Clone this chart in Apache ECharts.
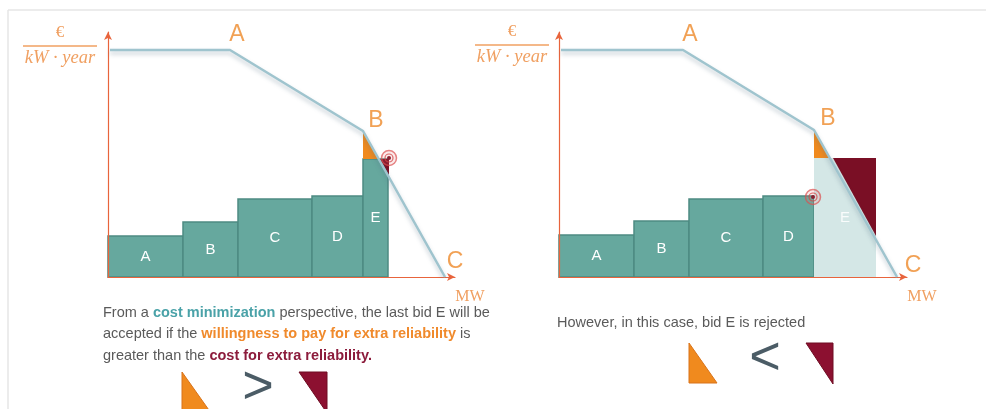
<!DOCTYPE html>
<html>
<head>
<meta charset="utf-8">
<script src="https://cdn.jsdelivr.net/npm/echarts@6/dist/echarts.min.js"></script>
<style>
  html, body { margin: 0; padding: 0; background: #fff; }
  #chart { width: 986px; height: 409px; }
</style>
</head>
<body>
<div id="chart"></div>
<script>
// bids: [from MW, to MW, price, name]
const leftBids = [[0, 75, 41, 'A'], [75, 130, 55, 'B'], [130, 204, 78, 'C'], [204, 255, 81, 'D'], [255, 280, 118, 'E']]
const rightBids = [[0, 75, 42, 'A'], [75, 130, 56, 'B'], [130, 204, 78, 'C'], [204, 255, 81, 'D']]
const rightRejected = [[255, 317, 119, 'E']]

// demand (willingness to pay) curve
const leftDemand = [[2, 227], [122, 227], [255, 146], [337, 0]]
const rightDemand = [[2, 227], [124, 227], [255, 147], [338, 0]]
const demandNames = ['', 'A', 'B', 'C']

// extra reliability triangles
const leftWilling = [[255, 146], [255, 118], [271, 118]]
const leftCost = [[272, 118], [281, 118], [281, 102]]
const rightWilling = [[255, 147], [255, 119], [271, 119]]
const rightCost = [[274, 119], [317, 119], [317, 41]]

// crosshair markers
const leftTarget = [[281, 119]]
const rightTarget = [[254, 80]]

const orange = '#ee8a2a'
const axisColor = '#e8643c'
const teal = '#66a89e'
const tealDark = '#4e8b82'
const curveColor = '#9fc4ce'
const wine = '#7a0f25'
const sans = 'Liberation Sans, Arial'

const chart = echarts.init(document.getElementById('chart'), null, { renderer: 'canvas' })

function axes(idx, width) {
  const common = {
    gridIndex: idx,
    type: 'value',
    min: 0,
    z: 3,
    axisLine: { show: true, symbol: ['none', 'arrow'], symbolSize: [6, 8], lineStyle: { color: axisColor, width: 1.2 } },
    axisTick: { show: false },
    axisLabel: { show: false },
    splitLine: { show: false }
  }
  return {
    x: Object.assign({}, common, { max: width }),
    y: Object.assign({}, common, { max: 245 })
  }
}

function bidSeries(idx, bids, fill, stroke, textColor) {
  return {
    type: 'custom',
    xAxisIndex: idx,
    yAxisIndex: idx,
    z: 2,
    data: bids.map(b => [b[0], b[1], b[2]]),
    renderItem: (params, api) => {
      const p0 = api.coord([api.value(0), api.value(2)])
      const p1 = api.coord([api.value(1), 0])
      return {
        type: 'rect',
        shape: { x: p0[0], y: p0[1], width: p1[0] - p0[0], height: p1[1] - p0[1] },
        style: { fill, stroke, lineWidth: stroke === 'none' ? 0 : 1.5 },
        textContent: {
          style: { text: bids[params.dataIndex][3], fill: textColor, fontSize: 15, fontFamily: sans }
        },
        textConfig: { position: 'inside' }
      }
    }
  }
}

function triangleSeries(idx, pts, fill) {
  return {
    type: 'custom',
    xAxisIndex: idx,
    yAxisIndex: idx,
    z: 3,
    data: pts,
    renderItem: (params, api) => {
      if (params.dataIndex > 0) return null
      return {
        type: 'polygon',
        shape: { points: pts.map(p => api.coord(p)) },
        style: { fill }
      }
    }
  }
}

function demandSeries(idx, pts) {
  return {
    type: 'line',
    xAxisIndex: idx,
    yAxisIndex: idx,
    z: 5,
    data: pts,
    showSymbol: false,
    silent: true,
    lineStyle: { color: curveColor, width: 2.5, shadowColor: 'rgba(80,110,130,0.35)', shadowBlur: 4, shadowOffsetY: 3 }
  }
}

function demandLabelSeries(idx, pts, offsets) {
  return {
    type: 'scatter',
    xAxisIndex: idx,
    yAxisIndex: idx,
    z: 7,
    symbolSize: 0,
    silent: true,
    data: pts.map((p, i) => ({
      value: p,
      label: {
        show: demandNames[i] !== '',
        formatter: demandNames[i],
        position: 'inside',
        offset: offsets[i],
        color: orange,
        fontSize: 23,
        fontFamily: sans
      }
    }))
  }
}

function targetSeries(idx, pts) {
  return {
    type: 'custom',
    xAxisIndex: idx,
    yAxisIndex: idx,
    z: 6,
    data: pts,
    renderItem: (params, api) => {
      const c = api.coord([api.value(0), api.value(1)])
      return {
        type: 'group',
        children: [
          { type: 'circle', shape: { cx: c[0], cy: c[1], r: 7.5 }, style: { fill: 'rgba(230,120,120,0.15)', stroke: 'rgba(220,80,80,0.7)', lineWidth: 1.5 } },
          { type: 'circle', shape: { cx: c[0], cy: c[1], r: 4 }, style: { fill: 'none', stroke: 'rgba(210,70,70,0.8)', lineWidth: 1.2 } },
          { type: 'circle', shape: { cx: c[0], cy: c[1], r: 2 }, style: { fill: '#8a2030' } }
        ]
      }
    }
  }
}

const la = axes(0, 347)
const ra = axes(1, 348)

const textBase = { fill: '#5a5a5a', fontSize: 14.5, fontFamily: sans }
const richStyles = {
  t: { fill: '#4aa2a8', fontWeight: 'bold', fontSize: 14.5, fontFamily: sans },
  o: { fill: '#f08a2c', fontWeight: 'bold', fontSize: 14.5, fontFamily: sans },
  r: { fill: '#8c1c3c', fontWeight: 'bold', fontSize: 14.5, fontFamily: sans }
}

function unitLabel(cx, top) {
  return [
    { type: 'text', style: { x: cx, y: top, text: '€', fill: '#f0a062', fontSize: 17, fontFamily: 'Liberation Serif', align: 'center', verticalAlign: 'middle' } },
    { type: 'line', shape: { x1: cx - 37, y1: top + 13, x2: cx + 37, y2: top + 13 }, style: { stroke: '#f0a062', lineWidth: 1.5 } },
    { type: 'text', style: { x: cx, y: top + 25, text: 'kW · year', fill: '#f0a062', fontSize: 18.5, fontStyle: 'italic', fontFamily: 'Liberation Serif', align: 'center', verticalAlign: 'middle' } }
  ]
}

function mwLabel(x) {
  return { type: 'text', style: { x, y: 297, text: 'MW', fill: '#f0a062', fontSize: 16, fontFamily: 'Liberation Serif', align: 'center', verticalAlign: 'middle' } }
}

chart.setOption({
  animation: false,
  grid: [
    { left: 108, top: 32, width: 347, height: 245 },
    { left: 559, top: 32, width: 348, height: 245 }
  ],
  xAxis: [la.x, ra.x],
  yAxis: [la.y, ra.y],
  series: [
    bidSeries(0, leftBids, teal, tealDark, '#ffffff'),
    triangleSeries(0, leftWilling, '#f08a1e'),
    triangleSeries(0, leftCost, wine),
    demandSeries(0, leftDemand),
    targetSeries(0, leftTarget),
    demandLabelSeries(0, leftDemand, [[0, 0], [7, -15], [13, -10], [10, -15]]),

    bidSeries(1, rightBids, teal, tealDark, '#ffffff'),
    bidSeries(1, rightRejected, '#d4e7e6', 'none', 'rgba(255,255,255,0.85)'),
    triangleSeries(1, rightWilling, '#f08a1e'),
    triangleSeries(1, rightCost, wine),
    demandSeries(1, rightDemand),
    targetSeries(1, rightTarget),
    demandLabelSeries(1, rightDemand, [[0, 0], [7, -15], [14, -11], [16, -11]])
  ],
  graphic: [
    { type: 'line', shape: { x1: 8, y1: 10, x2: 986, y2: 10 }, style: { stroke: '#e6e6e6', lineWidth: 1.5 } },
    { type: 'line', shape: { x1: 8, y1: 10, x2: 8, y2: 409 }, style: { stroke: '#e6e6e6', lineWidth: 1.5 } },
    ...unitLabel(60, 33),
    ...unitLabel(512, 32),
    mwLabel(470),
    mwLabel(922),
    {
      type: 'text',
      style: Object.assign({}, textBase, {
        x: 103, y: 302, lineHeight: 21.5,
        text: 'From a {t|cost minimization} perspective, the last bid E will be\naccepted if the {o|willingness to pay for extra reliability} is\ngreater than the {r|cost for extra reliability.}',
        rich: richStyles
      })
    },
    { type: 'text', style: Object.assign({}, textBase, { x: 557, y: 323, verticalAlign: 'middle', text: 'However, in this case, bid E is rejected' }) },
    // comparison glyphs
    { type: 'polygon', shape: { points: [[182, 372], [182, 413], [211, 413]] }, style: { fill: '#f08a1e', stroke: '#d8731a', lineWidth: 1 } },
    { type: 'text', style: { x: 258, y: 388, text: '>', fill: '#4b5c66', fontSize: 54, fontFamily: sans, align: 'center', verticalAlign: 'middle' } },
    { type: 'polygon', shape: { points: [[299, 372], [327, 372], [327, 413]] }, style: { fill: '#8c1030', stroke: '#6e0c22', lineWidth: 1 } },
    { type: 'polygon', shape: { points: [[689, 343], [689, 383], [717, 383]] }, style: { fill: '#f08a1e', stroke: '#d8731a', lineWidth: 1 } },
    { type: 'text', style: { x: 765, y: 359, text: '<', fill: '#4b5c66', fontSize: 54, fontFamily: sans, align: 'center', verticalAlign: 'middle' } },
    { type: 'polygon', shape: { points: [[806, 343], [833, 343], [833, 384]] }, style: { fill: '#8c1030', stroke: '#6e0c22', lineWidth: 1 } }
  ]
})
</script>
</body>
</html>
